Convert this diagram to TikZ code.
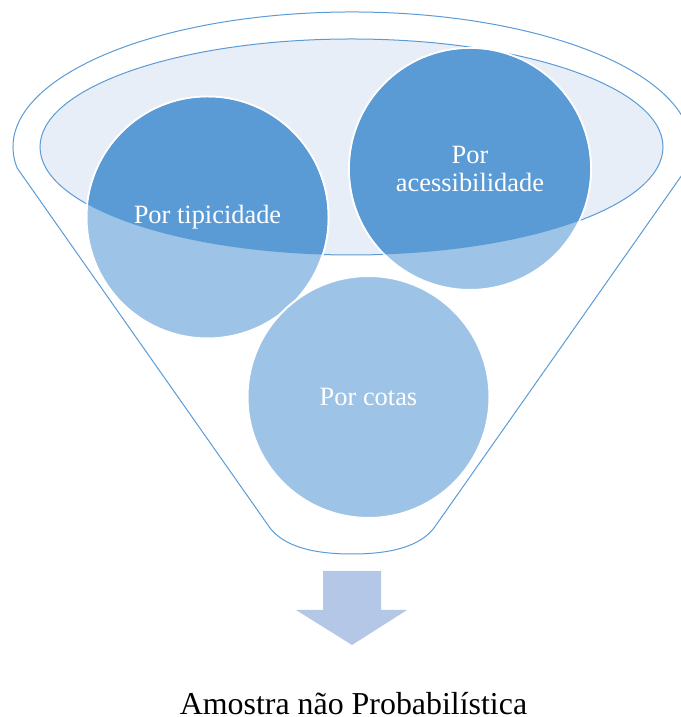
\documentclass[tikz,border=0pt]{standalone}
\usepackage{fontspec}
\setmainfont{Liberation Serif}
\definecolor{funnelblue}{HTML}{5B9BD5}
\definecolor{bubbleblue}{HTML}{9DC3E6}
\definecolor{capfill}{HTML}{E8EEF8}
\definecolor{arrowblue}{HTML}{B4C7E7}
\tikzset{
  bubble/.style={circle, minimum size=242pt, inner sep=0pt, fill=bubbleblue, draw=white, line width=2pt},
  bubbletext/.style={text=white, align=center, font=\fontsize{26.4}{28}\selectfont},
}
\begin{document}
\begin{tikzpicture}[x=1pt,y=1pt]
\useasboundingbox (0,0) rectangle (680,717);
% funnel
\draw[funnelblue, line width=1pt] (270,189) -- (17.2,548.9)
  arc[start angle=189, end angle=-9, x radius=339pt, y radius=135pt]
  -- (434,189) .. controls (420,171) and (392,163) .. (352,163)
  .. controls (312,163) and (284,171) .. (270,189);
\filldraw[fill=capfill, draw=funnelblue, line width=1pt] (351.5,570) ellipse [x radius=311.5pt, y radius=108pt];
% bubbles
\node[bubble] (tip) at (207.5,499.5) {};
\node[bubble] (acc) at (470,548) {};
\node[bubble] (cot) at (368.5,320) {};
\begin{scope}
  \clip (351.5,570) ellipse [x radius=311.5pt, y radius=108pt];
  \foreach \b in {tip,acc}
    \fill[funnelblue] (\b.center) circle (120pt);
\end{scope}
\node[bubbletext] (tiplabel) at (tip) {Por tipicidade};
\node[bubbletext] (acclabel) at (acc) {Por\\acessibilidade};
\node[bubbletext] (cotlabel) at (cot) {Por cotas};
% arrow and result
\fill[arrowblue] (323,146) -- (381,146) -- (381,107) -- (407,107) -- (352,72)
  -- (296,107) -- (323,107) -- cycle;
\node[font=\fontsize{31.9}{36}\selectfont, anchor=base] (result) at (353.5,2) {Amostra não Probabilística};
\end{tikzpicture}
\end{document}
